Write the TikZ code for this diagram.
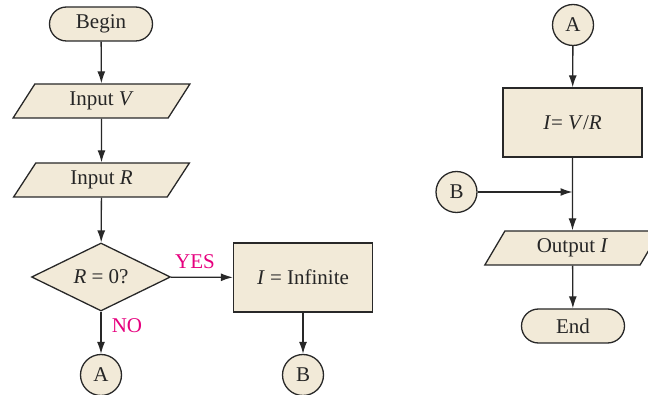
\documentclass[tikz,border=0pt]{standalone}
\usepackage{fontspec}
\setmainfont{Liberation Serif}
\usetikzlibrary{shapes.geometric,arrows.meta}
\definecolor{fillc}{RGB}{242,234,216}
\definecolor{linec}{RGB}{40,40,40}
\definecolor{labc}{RGB}{230,0,126}
\begin{document}
\begin{tikzpicture}[x=1pt,y=-1pt,
  every node/.style={font=\fontsize{21}{25}\selectfont, text=black!85},
  base/.style={draw=linec, fill=fillc, line width=1.3pt, inner sep=0pt},
  term/.style={base, rectangle, rounded corners=17pt, minimum width=103pt, minimum height=34pt},
  io/.style={base, trapezium, trapezium left angle=60, trapezium right angle=120, trapezium stretches=true, minimum width=177pt, minimum height=34pt},
  proc/.style={base, rectangle, minimum width=139pt, minimum height=69pt},
  dec/.style={base, diamond, aspect=2, minimum width=139pt, minimum height=68pt},
  conn/.style={base, circle, minimum size=41pt},
  lbl/.style={text=labc},
  arr/.style={draw=linec, line width=1.3pt, -{Latex[length=12pt,width=8pt]}}]
\useasboundingbox (0,0) rectangle (648,395);
\clip (0,0) rectangle (648,395);
% left column
\node[term] (begin) at (101,24) {Begin};
\node[io] (inV) at (101.5,101) {Input \textit{V}};
\node[io] (inR) at (101.5,180) {Input \textit{R}};
\node[dec] (dec) at (101,277) {\textit{R} = 0?};
\node[proc] (inf) at (303,277.5) {\textit{I} = Infinite};
\node[conn] (A1) at (101,375) {A};
\node[conn] (B1) at (303,375) {B};
\node[lbl] (yes) at (195,262) {YES};
\node[lbl] (no) at (127,326) {NO};
\draw[arr] (begin) -- (inV);
\draw[arr] (inV) -- (inR);
\draw[arr] (inR) -- (dec);
\draw[arr] (dec) -- (inf);
\draw[arr] (dec) -- (A1);
\draw[arr] (inf) -- (B1);
% right column
\node[conn] (A2) at (573,25) {A};
\node[proc] (ivr) at (572.5,122.5) {\textit{I}= \textit{V}/\textit{R}};
\node[conn] (B2) at (456.5,192) {B};
\coordinate (j) at (572.5,192);
\node[io] (out) at (572.5,248) {Output \textit{I}};
\node[term] (end) at (573,326) {End};
\draw[arr] (A2) -- (ivr);
\draw[arr] (B2) -- (j);
\draw[arr] (ivr) -- (out);
\draw[arr] (out) -- (end);
\end{tikzpicture}
\end{document}
